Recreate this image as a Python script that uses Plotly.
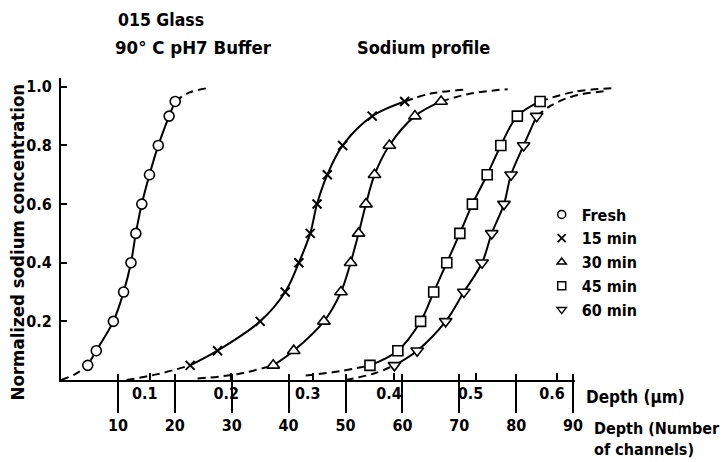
import plotly.graph_objects as go

# ---------------- data ----------------
LEVELS = [0.05, 0.1, 0.2, 0.3, 0.4, 0.5, 0.6, 0.7, 0.8, 0.9, 0.95]
LEVELS_60 = [0.05, 0.1, 0.2, 0.3, 0.4, 0.5, 0.6, 0.7, 0.8, 0.9]

fresh_ch = [4.7, 6.2, 9.2, 11.0, 12.3, 13.15, 14.2, 15.55, 17.1, 19.0, 20.07]
min15_ch = [22.7, 27.5, 35.0, 39.4, 41.8, 43.8, 45.0, 46.8, 49.5, 54.7, 60.4]
min30_ch = [37.3, 40.9, 46.2, 49.2, 50.9, 52.3, 53.6, 55.1, 57.7, 62.2, 66.8]
min45_ch = [54.3, 59.2, 63.2, 65.5, 67.8, 70.1, 72.3, 74.9, 77.3, 80.2, 84.2]
min60_ch = [58.6, 62.6, 67.6, 70.8, 74.0, 75.7, 77.85, 79.1, 81.3, 83.6]

# dashed extrapolations (low end / high end)
fresh_lo_x, fresh_lo_y = [0.0, 2.5, 4.7], [0.0, 0.02, 0.05]
fresh_hi_x, fresh_hi_y = [20.07, 22.5, 25.6], [0.95, 0.98, 0.995]
min15_lo_x, min15_lo_y = [11.5, 17.0, 22.7], [0.0, 0.02, 0.05]
min15_hi_x, min15_hi_y = [60.4, 65.0, 70.8], [0.95, 0.977, 0.99]
min30_lo_x, min30_lo_y = [24.0, 31.0, 37.3], [0.005, 0.02, 0.05]
min30_hi_x, min30_hi_y = [66.8, 72.0, 78.5], [0.95, 0.977, 0.992]
min45_lo_x, min45_lo_y = [43.0, 49.0, 54.3], [0.015, 0.03, 0.05]
min45_hi_x, min45_hi_y = [84.2, 90.0, 97.5], [0.95, 0.982, 0.996]
min60_lo_x, min60_lo_y = [50.0, 55.0, 58.6], [0.0, 0.022, 0.05]
min60_hi_x, min60_hi_y = [83.6, 86.0, 90.0, 96.1], [0.9, 0.935, 0.968, 0.986]

LABELS = ["Fresh", "15 min", "30 min", "45 min", "60 min"]
SYMBOLS = ["circle", "x-thin", "triangle-up", "square", "triangle-down"]

CH_TICKS = [10, 20, 30, 40, 50, 60, 70, 80, 90]
UM_TICKS = [0.1, 0.2, 0.3, 0.4, 0.5, 0.6]
UM_TEXT = ["0.1", "0.2", "0.3", "0.4", "0.5", "0.6"]
Y_TICKS = [0.2, 0.4, 0.6, 0.8, 1.0]
Y_TEXT = ["0.2", "0.4", "0.6", "0.8", "1.0"]

CH_PER_UM = 143.1      # channels per micrometre
UM_ZERO_CH = 1.3       # channel where depth = 0 um
X_MAX = 100.0
X_AXIS_END = 90.3

# ---------------- figure ----------------
FONT = "DejaVu Sans Condensed, DejaVu Sans, sans-serif"
BLACK = "black"
CLEAR = "rgba(0,0,0,0)"


def font(size):
    return dict(family=FONT, size=size, color=BLACK, weight="bold")


fig = go.Figure()

series = [
    (fresh_ch, LEVELS, fresh_lo_x, fresh_lo_y, fresh_hi_x, fresh_hi_y),
    (min15_ch, LEVELS, min15_lo_x, min15_lo_y, min15_hi_x, min15_hi_y),
    (min30_ch, LEVELS, min30_lo_x, min30_lo_y, min30_hi_x, min30_hi_y),
    (min45_ch, LEVELS, min45_lo_x, min45_lo_y, min45_hi_x, min45_hi_y),
    (min60_ch, LEVELS_60, min60_lo_x, min60_lo_y, min60_hi_x, min60_hi_y),
]

# empty traces so that the auxiliary axes get drawn (added first: lowest layer)
for ax in ("x2", "x3", "x4"):
    fig.add_trace(go.Scatter(x=[None], y=[None], xaxis=ax, yaxis="y", mode="markers",
                             showlegend=False, hoverinfo="skip"))

DASH = "8px,5px"
for (xs, ys, lx, ly, hx, hy) in series:
    for dx, dy in ((lx, ly), (hx, hy)):
        fig.add_trace(go.Scatter(x=dx, y=dy, mode="lines", showlegend=False,
                                 line=dict(color=BLACK, width=2, dash=DASH, shape="spline"),
                                 hoverinfo="skip"))

for (xs, ys, *_), name, sym in zip(series, LABELS, SYMBOLS):
    is_x = sym.startswith("x")
    fig.add_trace(go.Scatter(
        x=xs, y=ys, mode="lines+markers", name=name, showlegend=False,
        line=dict(color=BLACK, width=2, shape="spline"),
        marker=dict(symbol=sym, size=9 if is_x else (11 if "triangle" in sym else 10),
                    color="white" if not is_x else BLACK,
                    line=dict(color=BLACK, width=2 if is_x else 1.6)),
    ))

# legend-only entries
for name, sym in zip(LABELS, SYMBOLS):
    is_x = sym.startswith("x")
    fig.add_trace(go.Scatter(
        x=[None], y=[None], mode="markers", name=name, showlegend=True,
        marker=dict(symbol=sym, size=8, color="white" if not is_x else BLACK,
                    line=dict(color=BLACK, width=1.8 if is_x else 1.5)),
    ))

ML, MR, MT, MB = 61, 97, 78, 82
W, H = 727, 462
PW, PH = W - ML - MR, H - MT - MB


def px_x(p):
    return (p - ML) / PW


def px_y(p):
    return (H - MB - p) / PH


tickfont = font(16)

fig.update_layout(
    width=W, height=H, autosize=False,
    margin=dict(l=ML, r=MR, t=MT, b=MB, autoexpand=False),
    paper_bgcolor="white", plot_bgcolor=CLEAR,
    font=font(18),
    xaxis=dict(range=[0, X_MAX], domain=[0, 1], showline=False, showgrid=False,
               zeroline=False, showticklabels=False, ticks="", automargin=False),
    xaxis2=dict(range=[0, X_AXIS_END], domain=[0, X_AXIS_END / X_MAX], anchor="y",
                showline=True, linecolor=BLACK, linewidth=2, showgrid=False, zeroline=False,
                tickvals=CH_TICKS, ticktext=[str(v) for v in CH_TICKS],
                ticks="outside", ticklen=31, tickwidth=1.5, tickcolor=BLACK,
                tickfont=tickfont, ticklabelstandoff=-1, automargin=False),
    xaxis3=dict(range=[(0 - UM_ZERO_CH) / CH_PER_UM, (X_MAX - UM_ZERO_CH) / CH_PER_UM],
                overlaying="x", anchor="y", showline=False, showgrid=False, zeroline=False,
                tickvals=UM_TICKS, ticktext=UM_TEXT, ticks="inside", ticklen=7,
                tickwidth=1.5, tickcolor=BLACK, tickfont=tickfont, side="bottom",
                ticklabelstandoff=2, ticklabelshift=-5, automargin=False),
    xaxis4=dict(range=[0, X_MAX], overlaying="x", anchor="y", showline=False,
                showgrid=False, zeroline=False, tickvals=CH_TICKS, showticklabels=False,
                ticks="inside", ticklen=6, tickwidth=1.5, tickcolor=BLACK, side="bottom",
                automargin=False),
    yaxis=dict(range=[0, 1.03], showline=True, linecolor=BLACK, linewidth=2,
               showgrid=False, zeroline=False, tickvals=Y_TICKS, ticktext=Y_TEXT,
               ticks="inside", ticklen=6, tickwidth=1.5, tickcolor=BLACK,
               tickfont=tickfont, ticklabelstandoff=4, automargin=False),
    legend=dict(x=px_x(541.7), y=px_y(197.5), xanchor="left", yanchor="top",
                bgcolor=CLEAR, font=font(16), itemwidth=30, tracegroupgap=0),
    showlegend=True,
)

annotations = [
    dict(text="015 Glass", x=px_x(116), y=px_y(20), size=17.5),
    dict(text="90° C pH7 Buffer", x=px_x(113), y=px_y(48), size=18.5),
    dict(text="Sodium profile", x=px_x(355), y=px_y(48), size=18),
    dict(text="Depth (µm)", x=px_x(584), y=px_y(397), size=17),
    dict(text="Depth (Number<br>of channels)", x=px_x(592), y=px_y(438.5), size=16),
]
for a in annotations:
    fig.add_annotation(xref="paper", yref="paper", showarrow=False, text=a["text"],
                       x=a["x"], y=a["y"], xanchor="left", yanchor="middle", align="left",
                       font=font(a["size"]))

fig.add_annotation(xref="paper", yref="paper", showarrow=False,
                   text="Normalized sodium concentration", x=px_x(16.5), y=px_y(242),
                   xanchor="center", yanchor="middle", textangle=-90, font=font(18.5))

fig.write_html("out.html", config={"displayModeBar": False},
               post_script="document.body.style.margin='0px';")
